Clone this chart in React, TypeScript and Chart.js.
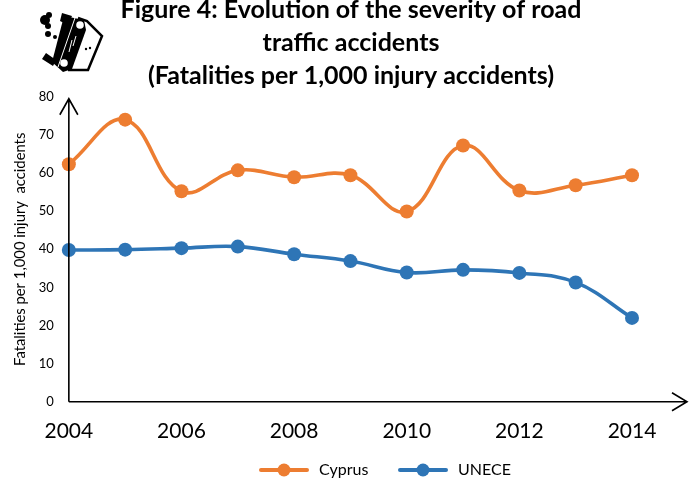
import React, { useEffect, useRef } from "react";
import { Chart, registerables } from "chart.js";

Chart.register(...registerables);

const years = ["2004", "2005", "2006", "2007", "2008", "2009", "2010", "2011", "2012", "2013", "2014"];
const cyprus = [62.3, 74, 55.2, 60.7, 58.9, 59.4, 49.9, 67.2, 55.4, 56.8, 59.4];
const unece = [39.8, 39.9, 40.3, 40.7, 38.7, 36.9, 33.9, 34.6, 33.8, 31.3, 22];
const titleLines = [
  "Figure 4: Evolution of the severity of road",
  "traffic accidents",
  "(Fatalities per 1,000 injury accidents)",
];
const yTitle = "Fatalities per 1,000 injury  accidents";
const FONT = "Lato, 'Open Sans', sans-serif";
const ORANGE = "#ED7D31";
const BLUE = "#2E75B6";

const axisArrows = {
  id: "axisArrows",
  afterDraw(chart: any) {
    const { ctx, chartArea: a } = chart;
    ctx.save();
    ctx.strokeStyle = "#000";
    ctx.lineWidth = 1.6;
    const x = a.left;
    const y = a.bottom;
    ctx.beginPath();
    ctx.moveTo(x, y);
    ctx.lineTo(x, a.top + 2);
    ctx.moveTo(x - 9, a.top + 18);
    ctx.lineTo(x, a.top + 2);
    ctx.lineTo(x + 9, a.top + 18);
    ctx.moveTo(x, y);
    ctx.lineTo(a.right + 55, y);
    ctx.moveTo(a.right + 40, y - 9);
    ctx.lineTo(a.right + 55, y);
    ctx.lineTo(a.right + 40, y + 9);
    ctx.stroke();
    ctx.restore();
  },
};

const carIcon = {
  id: "carIcon",
  afterDraw(chart: any) {
    const { ctx } = chart;
    ctx.save();
    ctx.fillStyle = "#000";
    ctx.strokeStyle = "#000";
    ctx.lineWidth = 2.5;
    ctx.beginPath();
    ctx.moveTo(78, 18);
    ctx.lineTo(87, 21);
    ctx.lineTo(102, 36);
    ctx.lineTo(88, 70);
    ctx.lineTo(68, 70);
    ctx.stroke();
    ctx.beginPath();
    ctx.moveTo(64, 16);
    ctx.lineTo(84, 20);
    ctx.lineTo(86, 30);
    ctx.lineTo(72, 69);
    ctx.lineTo(63, 72);
    ctx.lineTo(52, 62);
    ctx.closePath();
    ctx.fill();
    ctx.beginPath();
    ctx.moveTo(62, 13); ctx.lineTo(72, 16); ctx.lineTo(68, 25); ctx.lineTo(60, 21);
    ctx.closePath();
    ctx.moveTo(46, 53); ctx.lineTo(56, 60); ctx.lineTo(53, 66); ctx.lineTo(42, 59);
    ctx.closePath();
    ctx.fill();
    ctx.fillStyle = "#fff";
    ctx.beginPath(); ctx.arc(80, 25, 3.8, 0, Math.PI * 2); ctx.fill();
    ctx.beginPath(); ctx.arc(64, 63, 3.8, 0, Math.PI * 2); ctx.fill();
    ctx.strokeStyle = "#fff";
    ctx.lineWidth = 1;
    ctx.beginPath(); ctx.moveTo(76, 15); ctx.lineTo(58, 67); ctx.stroke();
    ctx.beginPath(); ctx.moveTo(72, 40); ctx.lineTo(69, 52); ctx.moveTo(76, 36); ctx.lineTo(73, 46); ctx.stroke();
    ctx.fillStyle = "#000";
    for (const [x, y, r] of [[45, 20, 5], [49, 15, 3], [48, 26, 3], [48, 34, 3], [55, 37, 2], [86, 49, 1.2], [90, 48, 1.2]]) {
      ctx.beginPath(); ctx.arc(x, y, r, 0, Math.PI * 2); ctx.fill();
    }
    ctx.restore();
  },
};

const lineLegend = {
  id: "lineLegend",
  afterDraw(chart: any) {
    const { ctx } = chart;
    const y = 470;
    const starts = [261, 400];
    ctx.save();
    ctx.font = `16px ${FONT}`;
    ctx.textBaseline = "middle";
    chart.data.datasets.forEach((ds: any, i: number) => {
      const x = starts[i];
      ctx.strokeStyle = ds.borderColor;
      ctx.fillStyle = ds.borderColor;
      ctx.lineWidth = 4;
      ctx.lineCap = "round";
      ctx.beginPath();
      ctx.moveTo(x, y);
      ctx.lineTo(x + 46, y);
      ctx.stroke();
      ctx.beginPath();
      ctx.arc(x + 23, y, 6.5, 0, Math.PI * 2);
      ctx.fill();
      ctx.fillStyle = "#000";
      ctx.fillText(ds.label, x + 58, y);
    });
    ctx.restore();
  },
};

export default function App() {
  const ref = useRef<HTMLCanvasElement | null>(null);
  useEffect(() => {
    document.body.style.margin = "0";
    const common = {
      borderWidth: 3.6,
      pointRadius: 7,
      pointBorderWidth: 0,
      tension: 0.4,
      clip: false as any,
    };
    const chart = new Chart(ref.current as HTMLCanvasElement, {
      type: "line",
      data: {
        labels: years,
        datasets: [
          { label: "Cyprus", data: cyprus, borderColor: ORANGE, backgroundColor: ORANGE, pointBackgroundColor: ORANGE, ...common },
          { label: "UNECE", data: unece, borderColor: BLUE, backgroundColor: BLUE, pointBackgroundColor: BLUE, ...common },
        ],
      },
      options: {
        responsive: false,
        animation: false,
        layout: { padding: { left: 11, right: 4, top: 0, bottom: 25 } },
        plugins: {
          title: {
            display: true,
            text: titleLines,
            color: "#000",
            font: { family: FONT, size: 25, weight: "bold", lineHeight: 1.33 },
            padding: { top: -7, bottom: 4 },
          },
          legend: { display: false },
          tooltip: { enabled: false },
        },
        scales: {
          x: {
            offset: false,
            grid: { display: false },
            border: { display: false },
            ticks: {
              color: "#000",
              font: { family: FONT, size: 21 },
              autoSkip: false,
              maxRotation: 0,
              padding: 9,
              callback(_v: any, i: number) {
                return i % 2 === 0 ? years[i] : "";
              },
            },
          },
          y: {
            min: 0,
            max: 80,
            grid: { display: false },
            border: { display: false },
            ticks: { color: "#000", font: { family: FONT, size: 13 }, stepSize: 10, padding: 7 },
            title: { display: true, text: yTitle, color: "#000", font: { family: FONT, size: 14.8 }, padding: { top: 0, bottom: 3 } },
          },
          spacer: {
            position: "right",
            display: true,
            grid: { display: false },
            border: { display: false },
            ticks: { display: false },
            afterFit(s: any) {
              s.width = 59;
            },
          },
        },
      },
      plugins: [axisArrows, carIcon, lineLegend],
    } as any);
    return () => chart.destroy();
  }, []);
  return <canvas ref={ref} width={695} height={478} style={{ display: "block" }} />;
}
